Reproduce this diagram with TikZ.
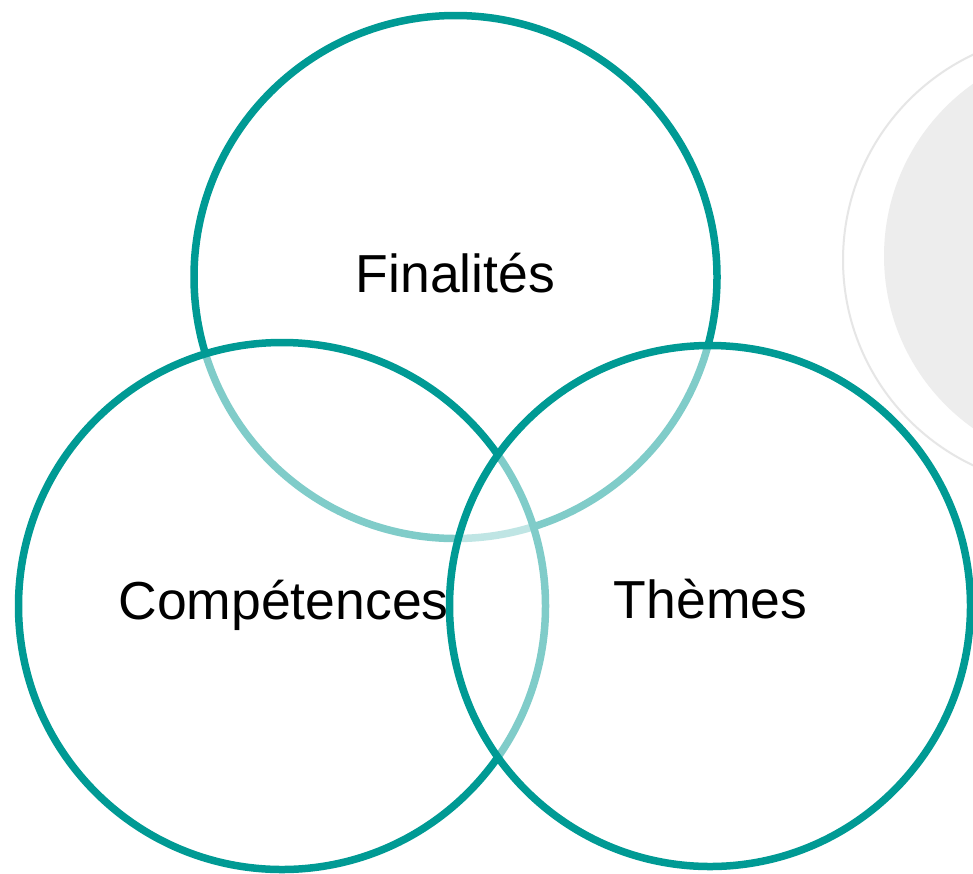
\documentclass[tikz,border=0pt]{standalone}
\usepackage{fontspec}
\setmainfont{Liberation Sans}
\definecolor{teal}{HTML}{009A94}
\definecolor{graybg}{HTML}{EDEDED}
\definecolor{grayline}{HTML}{E6E6E6}
\begin{document}
\begin{tikzpicture}[x=1pt,y=-1pt,
  ring/.style={circle,draw=teal,line width=7.5pt,fill=white,fill opacity=0.5,inner sep=0pt},
  label/.style={anchor=base,inner sep=0pt,font=\fontsize{53.5}{62}\selectfont,text=black}]
\useasboundingbox (0,0) rectangle (973,873);
\clip (0,0) rectangle (973,873);
\fill[white] (0,0) rectangle (973,873);
% background decoration on the right
\fill[graybg] (1095,256) circle[radius=211];
\draw[grayline,line width=2pt] (1070,260) circle[radius=227];
% the three circles
\node[ring,minimum size=523pt] (fin) at (455.5,277) {};
\node[ring,minimum size=527pt] (comp) at (282,606) {};
\node[ring,minimum size=521pt] (them) at (710,606) {};
% labels
\node[label] (tfin) at (455.5,292) {Finalités};
\node[label] (tcomp) at (283.5,619) {Compétences};
\node[label] (tthem) at (710.5,618) {Thèmes};
\end{tikzpicture}
\end{document}
